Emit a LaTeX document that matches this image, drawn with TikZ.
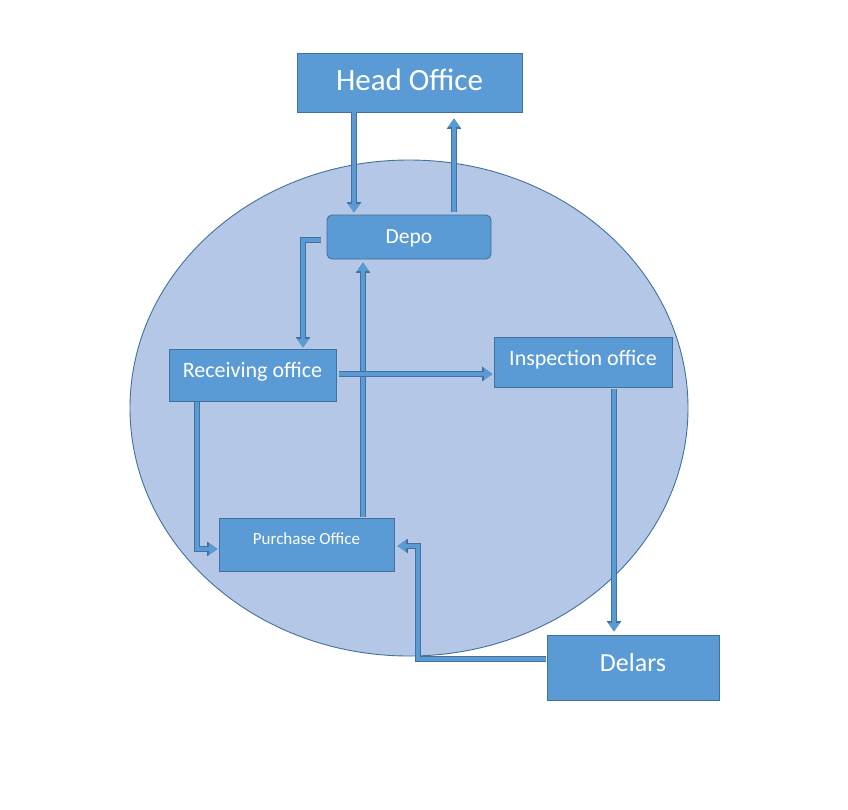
\documentclass[tikz,border=0pt]{standalone}
\usepackage{fontspec}
\setmainfont{Carlito}
\usetikzlibrary{arrows.meta}
\definecolor{boxblue}{HTML}{5B9BD5}
\definecolor{edgeblue}{HTML}{41719C}
\definecolor{areablue}{HTML}{B4C7E7}

\begin{document}
\begin{tikzpicture}[
x=1pt,y=-1pt,
office/.style={
  draw=edgeblue,
  fill=boxblue,
  text=white,
  line width=0.9pt,
  inner sep=0pt
  },
flow/.style={
  draw=boxblue,
  line width=4.4pt,
  -{Triangle[length=8.5pt,width=11pt]},
  preaction={draw=edgeblue,line width=6.6pt,-{Triangle[length=10.5pt,width=14pt]}}
  }
]
\useasboundingbox (0,0) rectangle (848,809);
\draw[edgeblue,fill=areablue,line width=0.9pt] (409,408) ellipse[x radius=279,y radius=248];
\node[office,minimum width=225pt,minimum height=59pt,text depth=6.5pt,font=\fontsize{31}{31}\selectfont] (head) at (409.5,82.5) {Head Office};
\node[office,rounded corners=5pt,minimum width=164pt,minimum height=44pt,text depth=0pt,font=\fontsize{21.5}{21.5}\selectfont] (depo) at (409,237) {Depo};
\node[office,minimum width=167pt,minimum height=52pt,text depth=10pt,font=\fontsize{22}{22}\selectfont] (recv) at (252.5,375) {Receiving office};
\node[office,minimum width=178pt,minimum height=50pt,text depth=9pt,font=\fontsize{22}{22}\selectfont] (insp) at (583,362) {Inspection office};
\node[office,minimum width=175pt,minimum height=53pt,text depth=12pt,font=\fontsize{17}{17}\selectfont] (purch) at (306.5,544.5) {Purchase Office};
\node[office,minimum width=172pt,minimum height=65pt,text depth=10pt,font=\fontsize{26}{26}\selectfont] (delars) at (633,667.5) {Delars};
\coordinate (bend) at (418,546);
\draw[flow,shorten >=2pt] (head.south -| 354,0) -- (depo.north -| 354,0);
\draw[flow,shorten <=3pt,shorten >=6pt] (depo.north -| 454,0) -- (head.south -| 454,0);
\draw[flow,shorten <=6pt,shorten >=1pt] (depo.west |- 0,240) -| (recv.north -| 303,0);
\draw[flow,shorten <=1pt,shorten >=3pt] (purch.north -| 363,0) -- (depo.south -| 363,0);
\draw[flow,shorten <=3pt,shorten >=1pt] (recv.east |- 0,374) -- (insp.west |- 0,374);
\draw[flow,shorten <=1pt,shorten >=1pt] (recv.south -| 197,0) |- (purch.west |- 0,549);
\draw[flow,shorten <=2pt,shorten >=3pt] (insp.south -| 614,0) -- (delars.north -| 614,0);
\draw[flow,shorten <=1pt,shorten >=3pt] (delars.west |- 0,659) -| (bend) -- (purch.east |- bend);
\end{tikzpicture}
\end{document}
